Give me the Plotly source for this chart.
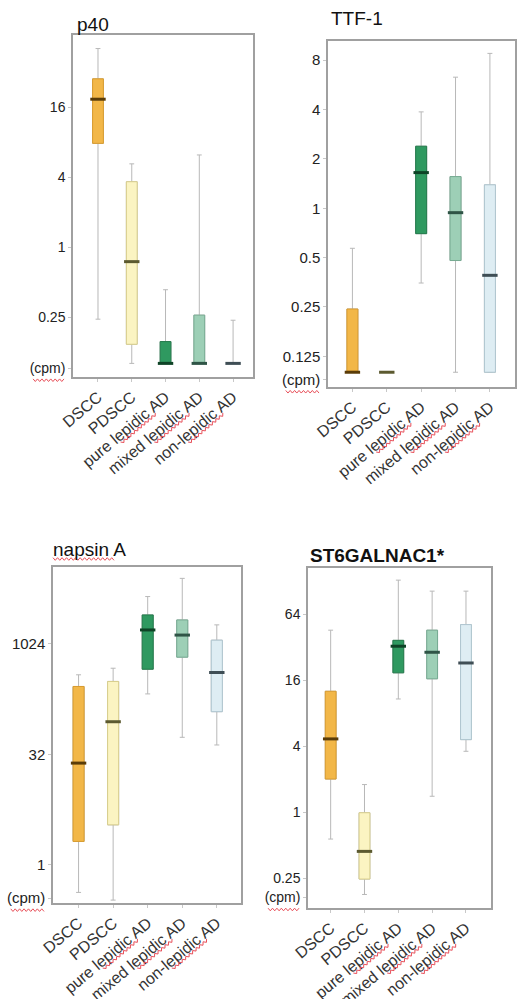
import math
import plotly.graph_objects as go

# ---------------- DATA ----------------
categories = ["DSCC", "PDSCC", "pure lepidic AD", "mixed lepidic AD", "non-lepidic AD"]

p40_lower = [0.24, 0.10, 0.10, 0.10, 0.10]
p40_q1 = [7.8, 0.146, 0.10, 0.10, 0.10]
p40_median = [18.7, 0.75, 0.10, 0.10, 0.10]
p40_q3 = [28.0, 3.65, 0.154, 0.26, 0.10]
p40_upper = [51.0, 5.2, 0.43, 6.2, 0.235]

ttf1_lower = [0.10, 0.10, 0.35, 0.10, 0.10]
ttf1_q1 = [0.10, 0.10, 0.70, 0.48, 0.10]
ttf1_median = [0.10, 0.10, 1.65, 0.94, 0.39]
ttf1_q3 = [0.243, 0.10, 2.39, 1.56, 1.39]
ttf1_upper = [0.57, 0.10, 3.87, 6.3, 8.8]

napsin_lower = [0.42, 0.33, 213, 54.6, 42.9]
napsin_q1 = [2.08, 3.5, 462, 675, 122]
napsin_median = [24.3, 89, 1585, 1350, 417]
napsin_q3 = [269, 315, 2540, 2170, 1150]
napsin_upper = [388, 477, 4520, 8000, 1860]

st6_lower = [0.57, 0.178, 10.8, 1.4, 3.6]
st6_q1 = [2.01, 0.246, 18.7, 16.5, 4.6]
st6_median = [4.67, 0.44, 32.7, 28.8, 23.0]
st6_q3 = [12.7, 0.99, 37.0, 45.8, 51.5]
st6_upper = [45.8, 1.79, 131, 104, 104]

p40_ticks = [0.0909, 0.25, 1, 4, 16]
p40_ticktext = ["(cpm)", "0.25", "1", "4", "16"]
ttf1_ticks = [0.090, 0.125, 0.25, 0.5, 1, 2, 4, 8]
ttf1_ticktext = ["(cpm)", "0.125", "0.25", "0.5", "1", "2", "4", "8"]
napsin_ticks = [0.351, 1, 32, 1024]
napsin_ticktext = ["(cpm)", "1", "32", "1024"]
st6_ticks = [0.167, 0.25, 1, 4, 16, 64]
st6_ticktext = ["(cpm)", "0.25", "1", "4", "16", "64"]

titles = ["p40", "TTF-1", "napsin A", "<b>ST6GALNAC1*</b>"]

# ---------------- STYLE ----------------
fill_colors = ["#F2B748", "#FBF4C2", "#2F9960", "#9DCFB6", "#DEEDF3"]
edge_colors = ["#D99C2E", "#D9CF8C", "#237A4B", "#76AB92", "#AFC6D0"]
median_colors = ["#5A3C08", "#5C5A30", "#0E4326", "#2F5446", "#3F4E55"]
whisker_color = "#B8B8B8"
frame_color = "#A0A0A0"
squiggle_color = "#E8505A"
FONT = "Liberation Sans, Arial, sans-serif"

W, H = 517, 999

def fx(px):
    return px / W

def fy(py):
    return 1 - py / H

# panel frames in pixels: (left, right, top, bottom)
frames = [(73, 253, 35, 377), (328, 515, 41, 387), (53, 241, 567, 903), (308, 491, 568, 908)]
xranges = [[-0.74, 4.59], [-0.71, 4.73], [-0.74, 4.70], [-0.67, 4.74]]
yranges = [[-1.117, 1.824], [-1.090, 1.020], [-0.521, 4.058], [-0.873, 2.228]]
title_pos = [(76, 25), (330, 18), (52, 549), (309, 555)]
tick_sizes = [14, 15, 15, 14]
xlab_size = 16
ANGLE = 40

panels = [
    (p40_lower, p40_q1, p40_median, p40_q3, p40_upper, p40_ticks, p40_ticktext),
    (ttf1_lower, ttf1_q1, ttf1_median, ttf1_q3, ttf1_upper, ttf1_ticks, ttf1_ticktext),
    (napsin_lower, napsin_q1, napsin_median, napsin_q3, napsin_upper, napsin_ticks, napsin_ticktext),
    (st6_lower, st6_q1, st6_median, st6_q3, st6_upper, st6_ticks, st6_ticktext),
]


def squiggle(x0, y0, x1, y1, amp=1.3, step=2.2):
    """Spell-check style wavy underline between two pixel points (paper path)."""
    L = math.hypot(x1 - x0, y1 - y0)
    ux, uy = (x1 - x0) / L, (y1 - y0) / L
    nx, ny = -uy, ux
    n = max(2, int(L / step))
    pts = []
    for k in range(n + 1):
        d = L * k / n
        s = amp if k % 2 else -amp
        pts.append((x0 + ux * d + nx * s, y0 + uy * d + ny * s))
    path = "M " + " L ".join(f"{fx(px):.5f},{fy(py):.5f}" for px, py in pts)
    return dict(type="path", xref="paper", yref="paper", path=path,
                line=dict(color=squiggle_color, width=1), layer="above")


fig = go.Figure()
layout_axes = {}
annotations = []
shapes = []

for p, (lo, q1, med, q3, up, tv, tt) in enumerate(panels):
    xa = "x" if p == 0 else f"x{p+1}"
    ya = "y" if p == 0 else f"y{p+1}"
    for i, cat in enumerate(categories):
        # whiskers layer
        fig.add_trace(go.Box(
            x=[cat], q1=[q1[i]], median=[med[i]], q3=[q3[i]],
            lowerfence=[lo[i]], upperfence=[up[i]],
            width=0.32, whiskerwidth=0.45,
            line=dict(color=whisker_color, width=1),
            fillcolor="rgba(0,0,0,0)",
            xaxis=xa, yaxis=ya, showlegend=False, hoverinfo="skip",
        ))
        # box layer
        fig.add_trace(go.Box(
            x=[cat], q1=[q1[i]], median=[med[i]], q3=[q3[i]],
            lowerfence=[q1[i]], upperfence=[q3[i]],
            width=0.32, whiskerwidth=0,
            line=dict(color=edge_colors[i], width=1),
            fillcolor=fill_colors[i],
            xaxis=xa, yaxis=ya, showlegend=False, hoverinfo="skip",
        ))
    # medians
    fig.add_trace(go.Scatter(
        x=categories, y=med, mode="markers",
        marker=dict(symbol="line-ew", size=11,
                    line=dict(color=median_colors, width=3)),
        xaxis=xa, yaxis=ya, showlegend=False, hoverinfo="skip",
    ))

    l, r, t, b = frames[p]
    xkey = "xaxis" if p == 0 else f"xaxis{p+1}"
    ykey = "yaxis" if p == 0 else f"yaxis{p+1}"
    layout_axes[xkey] = dict(
        domain=[fx(l), fx(r)], anchor=ya, type="category",
        categoryorder="array", categoryarray=categories,
        range=xranges[p], showline=True, mirror=True, linecolor=frame_color,
        linewidth=1.5, showgrid=False, zeroline=False, tickangle=-ANGLE,
        ticks="outside", ticklen=3, tickcolor="#C8C8C8",
        tickfont=dict(family=FONT, size=xlab_size, color="#333333"),
        automargin=False, fixedrange=True,
    )
    layout_axes[ykey] = dict(
        domain=[fy(b), fy(t)], anchor=xa, type="log",
        range=yranges[p], tickvals=tv, ticktext=tt,
        showline=True, mirror=True, linecolor=frame_color, linewidth=1.5,
        showgrid=False, zeroline=False, ticks="outside", ticklen=3,
        tickcolor="#C8C8C8",
        tickfont=dict(family=FONT, size=tick_sizes[p], color="#222222"),
        automargin=False, fixedrange=True,
    )
    tx, ty = title_pos[p]
    annotations.append(dict(
        text=titles[p], x=fx(tx), y=fy(ty), xref="paper", yref="paper",
        xanchor="left", yanchor="middle", showarrow=False, borderpad=0,
        font=dict(family=FONT, size=19, color="#111111"),
    ))

    # wavy spell-check underline below the "(cpm)" tick label
    ymin_log, ymax_log = yranges[p]
    cpm_py = b - (math.log10(tv[0]) - ymin_log) / (ymax_log - ymin_log) * (b - t)
    cw = 2.555 * tick_sizes[p]
    shapes.append(squiggle(l - 7 - cw * 0.92, cpm_py + 12,
                           l - 9, cpm_py + 12))

    # wavy underline below "lepidic" in the rotated category labels
    step_px = (r - l) / (xranges[p][1] - xranges[p][0])
    ca, sa = math.cos(math.radians(ANGLE)), math.sin(math.radians(ANGLE))
    em = xlab_size
    d0, d1 = 1.667 * em, (1.667 + 2.834) * em
    for i in (2, 3, 4):
        cx = l + (i - xranges[p][0]) * step_px
        ex, ey = cx + 2, b + 9
        off = 14
        sx0 = ex - ca * d0 + sa * off
        sy0 = ey + sa * d0 + ca * off
        sx1 = ex - ca * d1 + sa * off
        sy1 = ey + sa * d1 + ca * off
        shapes.append(squiggle(sx1, sy1, sx0, sy0))

# wavy underline below "napsin" in the title
shapes.append(squiggle(53, 559, 114, 559))

fig.update_layout(
    width=W, height=H, margin=dict(l=0, r=0, t=0, b=0),
    paper_bgcolor="white", plot_bgcolor="white",
    boxmode="overlay", annotations=annotations, shapes=shapes,
    showlegend=False,
    **layout_axes,
)

fig.write_html("out.html", config={"displayModeBar": False},
               post_script="document.body.style.margin='0px';")
